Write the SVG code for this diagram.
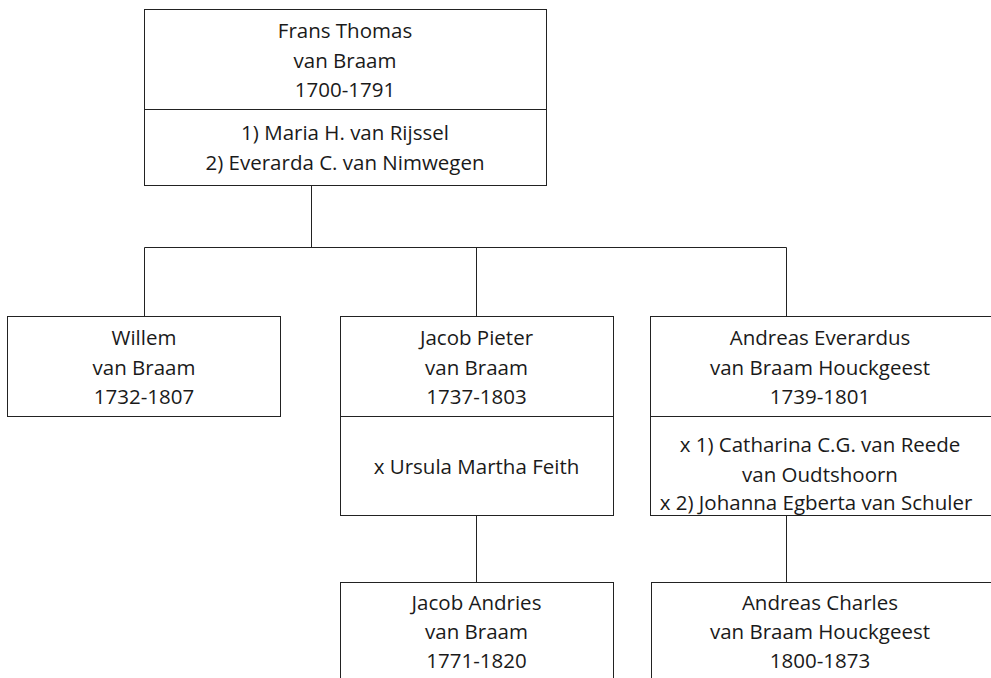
<svg xmlns="http://www.w3.org/2000/svg" width="991" height="678" viewBox="0 0 991 678">
<style>
  .box { fill: #ffffff; stroke: #222222; stroke-width: 1; }
  .div { stroke: #222222; stroke-width: 1; fill: none; }
  .conn { stroke: #222222; stroke-width: 1; fill: none; }
  text { font-family: "Open Sans", "Noto Sans", "Liberation Sans", sans-serif; font-size: 20.5px; fill: #1a1a1a; text-anchor: middle; }
</style>
<rect width="991" height="678" fill="#ffffff"/>
<g id="connectors">
  <path class="conn" d="M311.5 186 V247.5 M144.5 247.5 H786.5 M144.5 247.5 V316 M476.5 247.5 V316 M786.5 247.5 V316"/>
  <path class="conn" d="M476.5 515.5 V582"/>
  <path class="conn" d="M786.5 515.5 V582"/>
</g>
<g id="frans">
  <rect class="box" x="144.5" y="9.5" width="402" height="176"/>
  <line class="div" x1="144.5" y1="109.5" x2="546.5" y2="109.5"/>
  <text x="345" y="38">Frans Thomas</text>
  <text x="345" y="68">van Braam</text>
  <text x="345" y="97">1700-1791</text>
  <text x="345" y="140">1) Maria H. van Rijssel</text>
  <text x="345" y="170">2) Everarda C. van Nimwegen</text>
</g>
<g id="willem">
  <rect class="box" x="7.5" y="316.5" width="273" height="100"/>
  <text x="144" y="345">Willem</text>
  <text x="144" y="375">van Braam</text>
  <text x="144" y="404">1732-1807</text>
</g>
<g id="jacobpieter">
  <rect class="box" x="340.5" y="316.5" width="273" height="199"/>
  <line class="div" x1="340.5" y1="416.5" x2="613.5" y2="416.5"/>
  <text x="476.5" y="345">Jacob Pieter</text>
  <text x="476.5" y="375">van Braam</text>
  <text x="476.5" y="404">1737-1803</text>
  <text x="476.5" y="474">x Ursula Martha Feith</text>
</g>
<g id="andreaseverardus">
  <rect class="box" x="650.5" y="316.5" width="345" height="199"/>
  <line class="div" x1="650.5" y1="416.5" x2="995" y2="416.5"/>
  <text x="820" y="345">Andreas Everardus</text>
  <text x="820" y="375">van Braam Houckgeest</text>
  <text x="820" y="404">1739-1801</text>
  <text x="820" y="452">x 1) Catharina C.G. van Reede</text>
  <text x="820" y="482">van Oudtshoorn</text>
  <text x="816" y="510">x 2) Johanna Egberta van Schuler</text>
</g>
<g id="jacobandries">
  <rect class="box" x="340.5" y="582.5" width="273" height="120"/>
  <text x="476.5" y="610">Jacob Andries</text>
  <text x="476.5" y="639">van Braam</text>
  <text x="476.5" y="668">1771-1820</text>
</g>
<g id="andreascharles">
  <rect class="box" x="651.5" y="582.5" width="345" height="120"/>
  <text x="820" y="610">Andreas Charles</text>
  <text x="820" y="639">van Braam Houckgeest</text>
  <text x="820" y="668">1800-1873</text>
</g>
</svg>
